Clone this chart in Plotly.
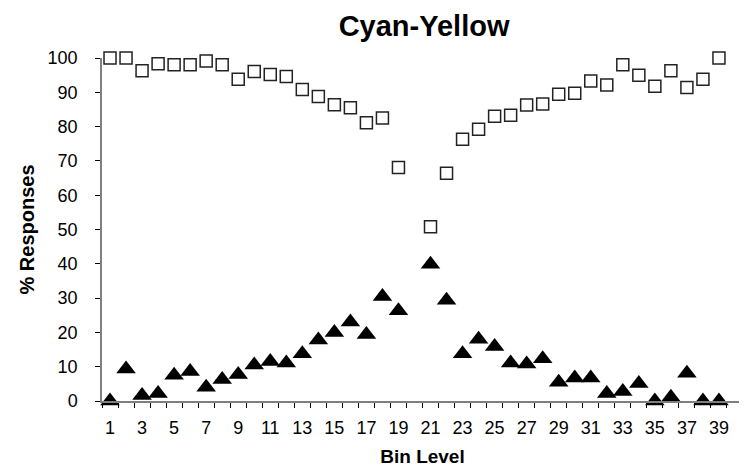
import plotly.graph_objects as go

bins = [1, 2, 3, 4, 5, 6, 7, 8, 9, 10, 11, 12, 13, 14, 15, 16, 17, 18, 19,
        21, 22, 23, 24, 25, 26, 27, 28, 29, 30, 31, 32, 33, 34, 35, 36, 37, 38, 39]

squares = [100, 100, 96.3, 98.3, 98.0, 98.0, 99.1, 98.0, 93.8, 96.1, 95.2, 94.6, 90.8,
           88.8, 86.4, 85.5, 81.1, 82.5, 68.1,
           50.8, 66.4, 76.3, 79.2, 83.0, 83.3, 86.3, 86.6, 89.4, 89.7, 93.3, 92.1,
           98.0, 95.0, 91.8, 96.3, 91.4, 93.8, 100]

triangles = [0, 9.3, 1.6, 2.2, 7.5, 8.6, 4.0, 6.3, 7.7, 10.5, 11.5, 11.1, 13.8,
             17.8, 20.0, 23.0, 19.4, 30.5, 26.3,
             39.9, 29.4, 13.8, 18.0, 15.9, 11.1, 10.8, 12.3, 5.5, 6.7, 6.7, 2.2,
             2.8, 5.1, 0, 1.1, 8.1, 0, 0]

x_tick_labels = [str(v) for v in range(1, 40, 2)]
x_tick_vals = list(range(1, 40, 2))
y_tick_vals = list(range(0, 101, 10))

FONT = "Liberation Sans, Arial, sans-serif"

fig = go.Figure()
fig.add_trace(go.Scatter(
    x=bins, y=squares, mode="markers",
    marker=dict(symbol="square-open", size=12, color="#222222", line=dict(width=1.5, color="#222222")),
    cliponaxis=False, showlegend=False))
fig.add_trace(go.Scatter(
    x=bins, y=triangles, mode="markers",
    marker=dict(symbol="triangle-up", size=17, color="black", line=dict(width=0)),
    cliponaxis=False, showlegend=False))

# page has an 8px body margin, so the figure is sized/offset to land on the reference pixels
fig.update_layout(
    width=739, height=463,
    margin=dict(l=94, r=4, t=50, b=70),
    plot_bgcolor="white", paper_bgcolor="white",
    font=dict(family=FONT, size=18, color="black"),
    title=dict(text="<b>Cyan-Yellow</b>", x=0.563, xanchor="center", y=0.962, yanchor="middle",
               font=dict(family=FONT, size=29, color="black")),
    xaxis=dict(
        range=[0.5, 40.5], showgrid=False, zeroline=False, automargin=False,
        showline=True, linecolor="#808080", linewidth=1.5,
        tickmode="array", tickvals=x_tick_vals, ticktext=x_tick_labels, ticks="",
        tickfont=dict(size=18), ticklabelstandoff=10,
        minor=dict(tickmode="array", tickvals=[v + 0.5 for v in range(0, 41)], ticks="outside",
                   ticklen=5, tickcolor="black", tickwidth=1, showgrid=False),
        title=dict(text="<b>Bin Level</b>", font=dict(size=19), standoff=12),
    ),
    yaxis=dict(
        range=[0, 100], showgrid=False, zeroline=False, automargin=False,
        showline=True, linecolor="#808080", linewidth=1.5,
        tickmode="array", tickvals=y_tick_vals, ticks="outside", ticklen=5,
        tickcolor="black", tickwidth=1, tickfont=dict(size=18), ticklabelstandoff=14,
        title=dict(text="<b>% Responses</b>", font=dict(size=20), standoff=8),
    ),
)

fig.write_html("out.html")
